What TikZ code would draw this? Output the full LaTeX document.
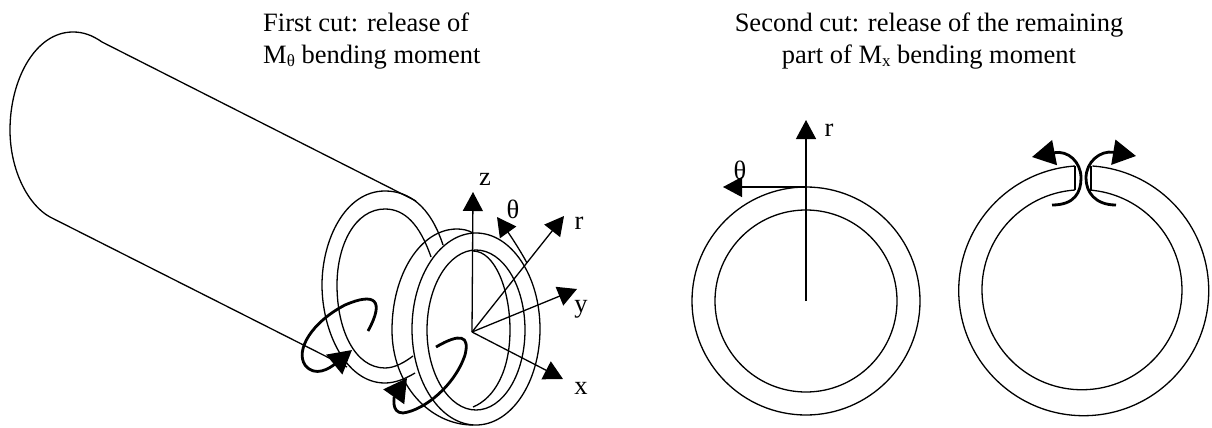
\documentclass[tikz,border=0pt]{standalone}
\usepackage{fontspec}
\setmainfont{Liberation Serif}
\usepackage{tikz}
\usetikzlibrary{positioning,arrows.meta,calc}
\newcommand{\subsc}[1]{\raisebox{-3pt}{\fontsize{17}{17}\selectfont #1}}
\tikzset{
  ring/.style={draw=black, line width=1.3pt},
  axis/.style={-{Triangle[length=19pt,width=20pt]}, line width=1.3pt},
  moment/.style={-{Triangle[length=23pt,width=25pt]}, line width=2.8pt},
  lab/.style={inner sep=0pt, font=\fontsize{26.5}{32}\selectfont},
  caption/.style={lab, align=center},
}
\begin{document}
\begin{tikzpicture}[x=1pt,y=-1pt]
  \useasboundingbox (0,0) rectangle (1212,428);
  % titles
  \node[caption,align=left,anchor=west] (title1) at (263,41) {First cut: release of\\M\subsc{θ} bending moment};
  \node[caption] (title2) at (929,41) {Second cut: release of the remaining\\part of M\subsc{x} bending moment};
  % tube
  \draw[ring] (416,201) -- (102,42) .. controls (92,35) and (83,32) .. (73,32)
    .. controls (35,32) and (10,80) .. (10,130)
    .. controls (10,170) and (28,205) .. (50,217) -- (347,367);
  \draw[ring] (443,245) .. controls (430,205) and (408,191) .. (385,191)
    .. controls (345,191) and (322,240) .. (322,285) .. controls (322,330) and (345,383) .. (385,383)
    .. controls (395,383) and (405,379) .. (415,373);
  \draw[ring] (431,257) .. controls (420,225) and (405,209) .. (385,209)
    .. controls (355,209) and (337,245) .. (337,285) .. controls (337,330) and (355,368) .. (385,368)
    .. controls (395,368) and (405,362) .. (413,356);
  % cut rings
  \draw[ring] (473,233) .. controls (468,230) and (462,229) .. (457,229)
    .. controls (420,229) and (392,275) .. (392,330)
    .. controls (392,385) and (430,425) .. (473,425);
  \draw[ring] (476,329) ellipse [x radius=64, y radius=96];
  \draw[ring] (476,330) ellipse [x radius=49, y radius=80];
  \draw[ring] (473,251) .. controls (495,251) and (510,290) .. (510,330) .. controls (510,370) and (495,398) .. (473,407);
  % axes
  \coordinate (orig) at (472,332);
  \coordinate (ztip) at (473,192);
  \coordinate (rtip) at (564,216);
  \coordinate (ytip) at (577,289);
  \coordinate (xtip) at (563,379);
  \coordinate (thetastart) at (527,263);
  \coordinate (thetatip) at (497,217);
  \draw[axis] (orig) -- (ztip);
  \draw[axis] (orig) -- (rtip);
  \draw[axis] (orig) -- (ytip);
  \draw[axis] (orig) -- (xtip);
  \draw[axis] (thetastart) .. controls (520,250) and (510,235) .. (thetatip);
  \node[lab] (zlab) at (485,179) {z};
  \node[lab] (thetalab) at (513,209) {θ};
  \node[lab] (rlab) at (579,223) {r};
  \node[lab] (ylab) at (581,309) {y};
  \node[lab] (xlab) at (581,388) {x};
  % moments
  \coordinate (m1a) at (368,331);
  \coordinate (m1b) at (352,350);
  \coordinate (m2a) at (436,347);
  \coordinate (m2b) at (407,378);
  \draw[moment] (m1a) .. controls (385,300) and (375,292) .. (345,305)
    .. controls (312,322) and (295,350) .. (305,365) .. controls (315,378) and (330,368) .. (m1b);
  \draw[moment] (m2a) .. controls (460,333) and (470,335) .. (465,355)
    .. controls (455,385) and (425,410) .. (403,413) .. controls (390,413) and (395,395) .. (m2b);
  % right figure, first ring
  \coordinate (c2) at (806,301);
  \draw[ring] (c2) circle [radius=114];
  \draw[ring] (c2) circle [radius=91];
  \coordinate (rtip2) at (806,120);
  \coordinate (thetatop) at (806,187);
  \coordinate (thetatip2) at (723,187);
  \draw[axis] (c2) -- (rtip2);
  \draw[axis] (thetatop) -- (thetatip2);
  \node[lab] (rlab2) at (829,130) {r};
  \node[lab] (thetalab2) at (740,170) {θ};
  % right figure, second ring
  \coordinate (c3) at (1083,290);
  \draw[ring] (1075,166) -- (1075,190);
  \draw[ring] (1091,166) -- (1091,190);
  \draw[ring] (1075,166) arc [start angle=-94, delta angle=-352, radius=125];
  \draw[ring] (1075,190) arc [start angle=-94, delta angle=-352, radius=100];
  % moments at the cut
  \coordinate (m3a) at (1052,205);
  \coordinate (m3b) at (1032,157);
  \coordinate (m4a) at (1116,205);
  \coordinate (m4b) at (1136,156);
  \draw[moment] (m3a) .. controls (1075,205) and (1081,192) .. (1081,178) .. controls (1081,162) and (1068,150) .. (m3b);
  \draw[moment] (m4a) .. controls (1095,205) and (1086,192) .. (1086,178) .. controls (1086,162) and (1100,150) .. (m4b);
\end{tikzpicture}
\end{document}
